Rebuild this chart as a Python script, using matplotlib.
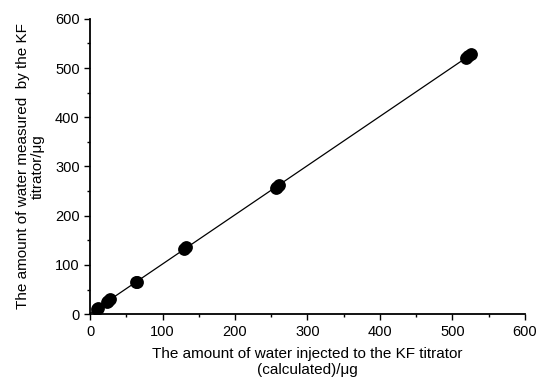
import matplotlib
matplotlib.use("Agg")
import matplotlib.pyplot as plt
import numpy as np
from matplotlib.ticker import MultipleLocator

plt.rcParams['font.family'] = ['Liberation Sans', 'DejaVu Sans']

x_calc = [10.0, 11.0, 23.0, 25.0, 27.0, 64.0, 65.0, 130.0, 132.0, 256.0, 258.0, 260.0, 519.0, 522.0, 525.0]
y_meas = [10.0, 12.0, 24.0, 27.0, 31.0, 65.0, 66.0, 133.0, 137.0, 256.0, 259.0, 262.0, 520.0, 524.0, 528.0]
fit_x = [0.0, 525.0]

fig = plt.figure(figsize=(5.39, 3.84), dpi=100)
ax = fig.add_axes([0.167, 0.182, 0.807, 0.769])

slope, intercept = np.polyfit(x_calc, y_meas, 1)
fx = np.array(fit_x)
ax.plot(fx, slope * fx + intercept, color='black', lw=0.9, zorder=2)
ax.scatter(x_calc, y_meas, s=85, color='black', zorder=3, linewidths=0)

ax.set_xlim(0, 600)
ax.set_ylim(0, 600)
ax.xaxis.set_major_locator(MultipleLocator(100))
ax.yaxis.set_major_locator(MultipleLocator(100))
ax.xaxis.set_minor_locator(MultipleLocator(50))
ax.yaxis.set_minor_locator(MultipleLocator(50))
ax.tick_params(which='major', direction='out', length=4, width=1, labelsize=10.5)
ax.tick_params(which='minor', direction='out', length=2.5, width=1)
ax.spines['top'].set_visible(False)
ax.spines['right'].set_visible(False)
ax.spines['left'].set_linewidth(1.3)
ax.spines['bottom'].set_linewidth(1.3)

ax.set_xlabel('The amount of water injected to the KF titrator\n(calculated)/\u03bcg', fontsize=11, labelpad=6, linespacing=1.15)
ax.set_ylabel('The amount of water measured  by the KF\ntitrator/\u03bcg', fontsize=11, labelpad=7, linespacing=1.15)

fig.savefig('out.png', dpi=100)
